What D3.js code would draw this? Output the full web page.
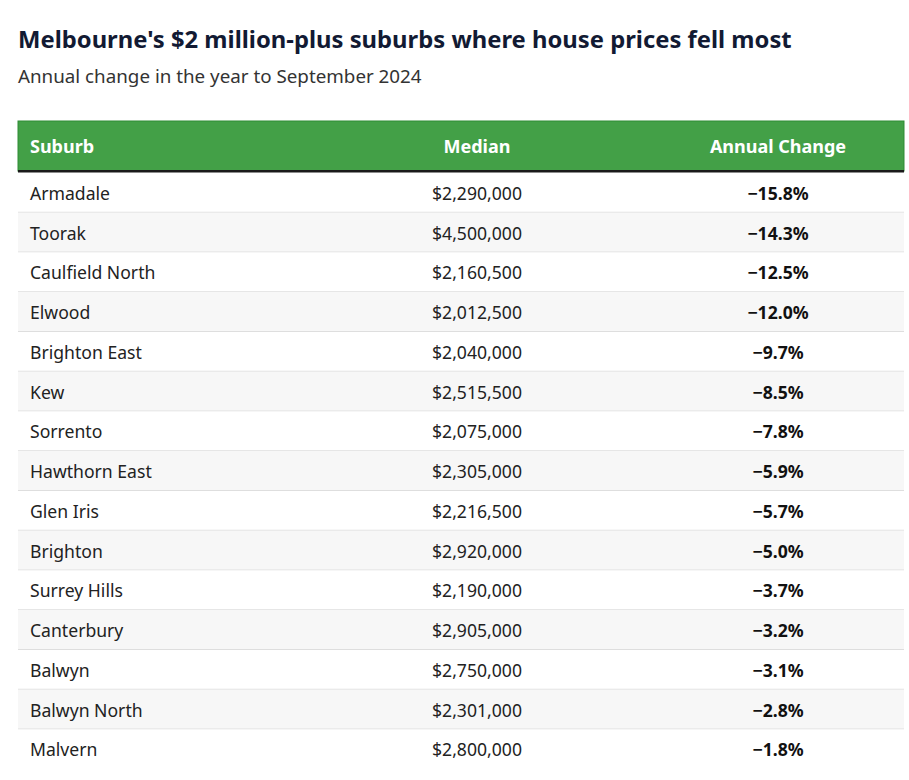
<!DOCTYPE html>
<html>
<head>
<meta charset="utf-8">
<script src="https://cdn.jsdelivr.net/npm/d3@7"></script>
<style>
  body { margin: 0; background: #fff; font-family: "Noto Sans", sans-serif; }
</style>
</head>
<body>
<svg id="chart" width="909" height="780"></svg>
<script>
// Table data
var suburbs = ["Armadale", "Toorak", "Caulfield North", "Elwood", "Brighton East", "Kew",
    "Sorrento", "Hawthorn East", "Glen Iris", "Brighton", "Surrey Hills", "Canterbury",
    "Balwyn", "Balwyn North", "Malvern"];
var medians = [2290000, 4500000, 2160500, 2012500, 2040000, 2515500, 2075000, 2305000,
    2216500, 2920000, 2190000, 2905000, 2750000, 2301000, 2800000];
var changes = [-15.8, -14.3, -12.5, -12.0, -9.7, -8.5, -7.8, -5.9, -5.7, -5.0, -3.7, -3.2,
    -3.1, -2.8, -1.8];
var headers = ["Suburb", "Median", "Annual Change"];

var left = 18, right = 904;
var headTop = 121, headH = 50;
var bodyTop = 173, rowH = 39.75;

var svg = d3.select("#chart");

// Title and subtitle
svg.append("text")
    .attr("x", 18).attr("y", 48)
    .attr("font-size", 23.8).attr("font-weight", "bold").attr("fill", "#121a33")
    .text("Melbourne's $2 million-plus suburbs where house prices fell most");
svg.append("text")
    .attr("x", 18).attr("y", 83)
    .attr("font-size", 18.8).attr("fill", "#333")
    .text("Annual change in the year to September 2024");

// Row scale
var yScale = d3.scaleBand()
    .domain(d3.range(suburbs.length))
    .range([bodyTop, bodyTop + rowH * suburbs.length]);

// Column anchors
var colX = [30, 477, 778];
var colAnchor = ["start", "middle", "middle"];

// Header
svg.append("rect")
    .attr("x", left).attr("y", headTop)
    .attr("width", right - left).attr("height", headH)
    .attr("fill", "#43a047").attr("stroke", "#2e8b35").attr("stroke-width", 1);
svg.append("rect")
    .attr("x", left).attr("y", headTop + headH - 1)
    .attr("width", right - left).attr("height", 2.5)
    .attr("fill", "#1a1a1a");

svg.selectAll("text.head")
    .data(headers)
    .enter()
    .append("text")
    .attr("class", "head")
    .attr("x", function (d, i) { return colX[i]; })
    .attr("y", headTop + headH / 2 + 7)
    .attr("text-anchor", function (d, i) { return colAnchor[i]; })
    .attr("font-size", 18).attr("font-weight", "bold").attr("fill", "#fff")
    .text(function (d) { return d; });

// Body rows
var rows = svg.selectAll("g.row")
    .data(suburbs)
    .enter()
    .append("g")
    .attr("class", "row")
    .attr("transform", function (d, i) { return "translate(0," + yScale(i) + ")"; });

rows.append("rect")
    .attr("x", left).attr("y", 0)
    .attr("width", right - left).attr("height", yScale.bandwidth())
    .attr("fill", function (d, i) { return i % 2 ? "#f7f7f7" : "#fff"; });

rows.filter(function (d, i) { return i < suburbs.length - 1; })
    .append("line")
    .attr("x1", left).attr("x2", right)
    .attr("y1", yScale.bandwidth() - 0.5).attr("y2", yScale.bandwidth() - 0.5)
    .attr("stroke", "#dedede").attr("stroke-width", 1);

var fmtMoney = d3.format("$,");
var fmtPct = function (v) { return "\u2212" + Math.abs(v).toFixed(1) + "%"; };

rows.append("text")
    .attr("x", colX[0]).attr("y", yScale.bandwidth() / 2 + 7)
    .attr("font-size", 17.6).attr("fill", "#222")
    .text(function (d) { return d; });

rows.append("text")
    .attr("x", colX[1]).attr("y", yScale.bandwidth() / 2 + 7)
    .attr("text-anchor", "middle")
    .attr("font-size", 17.6).attr("fill", "#222")
    .text(function (d, i) { return fmtMoney(medians[i]); });

rows.append("text")
    .attr("x", colX[2]).attr("y", yScale.bandwidth() / 2 + 7)
    .attr("text-anchor", "middle")
    .attr("font-size", 17.6).attr("font-weight", "bold").attr("fill", "#111")
    .text(function (d, i) { return fmtPct(changes[i]); });
</script>
</body>
</html>
